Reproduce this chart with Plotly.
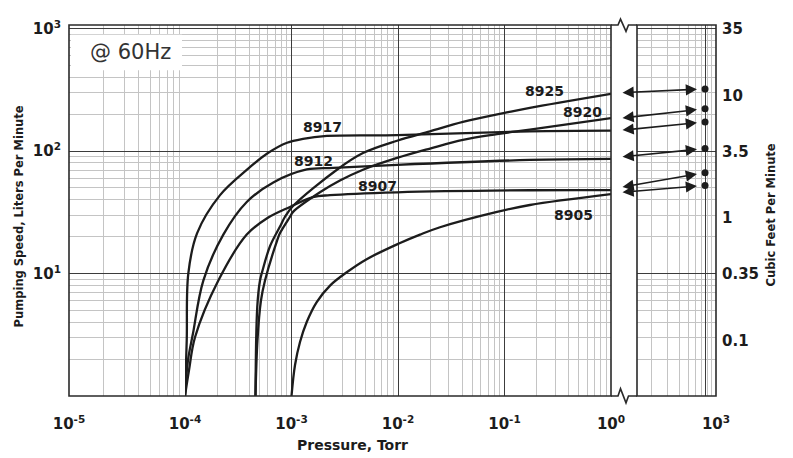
import plotly.graph_objects as go
import math

# ------------------------------------------------------------------ data
# pumping speed curves (pressure in Torr, speed in L/min)
p_8905 = [1.0e-3, 1.079e-3, 1.202e-3, 1.39e-3, 1.725e-3, 2.30e-3, 3.30e-3, 5.08e-3, 1.02e-2, 1.61e-2, 2.48e-2, 8.51e-2, 0.173, 1.0]
s_8905 = [1.0, 1.79, 2.76, 4.02, 5.85, 7.98, 10.24, 13.1, 17.6, 20.8, 23.9, 31.9, 36.3, 44.5]

p_8907 = [1.0e-4, 1.091e-4, 1.242e-4, 2.056e-4, 3.80e-4, 5.85e-4, 9.68e-4, 1.59e-3, 2.30e-3, 9.8e-3, 0.173, 1.0]
s_8907 = [1.0, 1.63, 3.02, 8.77, 20.8, 28.2, 35.0, 42.1, 43.7, 46.1, 47.9, 48.0]

p_8912 = [1.0e-4, 1.067e-4, 1.189e-4, 1.486e-4, 2.29e-4, 3.80e-4, 6.75e-4, 1.39e-3, 2.47e-3, 9.8e-3, 0.173, 1.0]
s_8912 = [1.0, 1.96, 3.25, 8.77, 20.8, 38.4, 55.5, 70.8, 73.1, 77.3, 84.7, 86.3]

p_8917 = [1.0e-4, 1.038e-4, 1.074e-4, 1.297e-4, 2.133e-4, 3.82e-4, 6.01e-4, 9.08e-4, 1.282e-3, 2.15e-3, 9.8e-3, 0.173, 1.0]
s_8917 = [1.0, 2.85, 10.0, 21.3, 43.7, 70.5, 96.4, 117, 126, 133, 135, 145, 147]

p_8920 = [4.59e-4, 4.79e-4, 5.17e-4, 5.64e-4, 7.30e-4, 7.80e-4, 9.68e-4, 1.035e-3, 1.85e-3, 2.85e-3, 4.69e-3, 9.8e-3, 0.020, 0.0407, 0.085, 0.173, 1.0]
s_8920 = [1.0, 2.85, 6.03, 8.77, 18.4, 21.4, 29.1, 31.9, 46.1, 57.5, 70.5, 87.9, 105, 123.7, 137.6, 150, 186]

p_8925 = [4.59e-4, 4.77e-4, 5.06e-4, 5.25e-4, 6.28e-4, 7.80e-4, 8.69e-4, 1.033e-3, 2.67e-3, 4.69e-3, 9.8e-3, 0.020, 0.0407, 0.105, 0.173, 1.0]
s_8925 = [1.0, 5.32, 8.77, 10.0, 16.7, 24.2, 29.1, 35.6, 70.5, 96.4, 121.5, 145, 173, 207, 226, 294]

# speed near 1 Torr and free-air speed at atmosphere (arrows / dots)
atm_models = ["8925", "8920", "8917", "8912", "8907", "8905"]
speed_at_1torr = [300, 186, 148, 89.5, 50.6, 46.1]
speed_at_atm = [322, 222, 173, 105, 66.7, 52.5]
atm_pressure = 760

# axis ticks
x_ticks_first = [1e-5]
x_ticks_main = [1e-4, 1e-3, 1e-2, 1e-1, 1]
x_ticks_atm = [760, 1000]
x_labels_first = ["10<sup>-5</sup>"]
x_labels_main = ["10<sup>-4</sup>", "10<sup>-3</sup>", "10<sup>-2</sup>", "10<sup>-1</sup>", "10<sup>0</sup>"]
x_labels_atm = [" ", "10<sup>3</sup>"]
y_ticks = [10, 100, 1000]
y_labels = ["10<sup>1</sup>", "10<sup>2</sup>", "10<sup>3</sup>"]
cfm_ticks = [35, 10, 3.5, 1, 0.35, 0.1]
cfm_labels = ["35", "10", "3.5", "1", "0.35", "0.1"]
LPM_PER_CFM = 28.3168

curves = [
    ("8905", p_8905, s_8905),
    ("8907", p_8907, s_8907),
    ("8912", p_8912, s_8912),
    ("8917", p_8917, s_8917),
    ("8920", p_8920, s_8920),
    ("8925", p_8925, s_8925),
]

# ------------------------------------------------------------------ layout helpers
# the page body adds an 8 px margin, so the figure is drawn 8 px smaller
OFF = 8
PAGE_W, PAGE_H = 793, 458
W, H = PAGE_W - OFF, PAGE_H - OFF
PL, PR, PT, PB = 69, 716, 18, 396          # plot area in page pixels
PW, PH = PR - PL, PB - PT


def fx(px):
    return (px - PL) / PW


def fy(py):
    return (PB - py) / PH


INK = "#1c1c1c"
MAJOR = "#3c3c3c"
MINOR = "#c4c4c4"
FONT = "DejaVu Sans"
TICKFONT = dict(family=FONT, size=15, color=INK, weight="bold")


def minor_vals(decades):
    return [m * 10 ** d for d in decades for m in range(2, 10)]


fig = go.Figure()

for name, p, s in curves:
    fig.add_trace(go.Scatter(x=p, y=s, mode="lines", xaxis="x", yaxis="y",
                             line=dict(color=INK, width=2.3, shape="spline", smoothing=1.0),
                             name=name, hoverinfo="skip"))

# helper traces so that all sub-panels exist
fig.add_trace(go.Scatter(x=[], y=[], xaxis="x3", yaxis="y", hoverinfo="skip"))
fig.add_trace(go.Scatter(x=[], y=[], xaxis="x2", yaxis="y2", hoverinfo="skip"))

# dots at atmospheric pressure
fig.add_trace(go.Scatter(x=[atm_pressure] * len(speed_at_atm), y=speed_at_atm, mode="markers",
                         xaxis="x2", yaxis="y", marker=dict(color=INK, size=7),
                         hoverinfo="skip"))

x2_range = [2.141, 3.0]
common_x = dict(type="log", showline=False, zeroline=False, ticks="", tickangle=0,
                tickfont=TICKFONT, ticklabelstandoff=17, anchor="y",
                gridcolor=MAJOR, gridwidth=1.2)

fig.update_layout(
    width=W, height=H,
    margin=dict(l=PL - OFF, r=PAGE_W - PR, t=PT - OFF, b=PAGE_H - PB),
    paper_bgcolor="white", plot_bgcolor="white",
    showlegend=False,
    xaxis3=dict(common_x, domain=[0, fx(185)], range=[-5, -4],
                tickvals=x_ticks_first, ticktext=x_labels_first, showgrid=False,
                minor=dict(tickvals=minor_vals([-5]), showgrid=True, gridcolor=MINOR, gridwidth=1)),
    xaxis=dict(common_x, domain=[fx(185), fx(611)], range=[-4, 0],
               tickvals=x_ticks_main, ticktext=x_labels_main, showgrid=True,
               minor=dict(tickvals=minor_vals([-4, -3, -2, -1]), showgrid=True, gridcolor=MINOR, gridwidth=1)),
    xaxis2=dict(common_x, domain=[fx(637), 1], range=x2_range,
                tickvals=x_ticks_atm, ticktext=x_labels_atm, showgrid=True,
                minor=dict(tickvals=minor_vals([2]), showgrid=True, gridcolor=MINOR, gridwidth=1)),
    yaxis=dict(type="log", range=[0, 3.03], domain=[0, 1], anchor="x3",
               showline=False, zeroline=False, ticks="",
               tickvals=y_ticks, ticktext=y_labels, tickfont=TICKFONT, ticklabelstandoff=7,
               gridcolor=MAJOR, gridwidth=1.2,
               minor=dict(tickvals=minor_vals([0, 1, 2]), showgrid=True, gridcolor=MINOR, gridwidth=1)),
    yaxis2=dict(type="log", range=[0, 3.03], overlaying="y", side="right", anchor="x2",
                showline=False, zeroline=False, ticks="", showgrid=False,
                tickvals=[c * LPM_PER_CFM for c in cfm_ticks], ticktext=cfm_labels,
                tickfont=TICKFONT, ticklabelstandoff=5),
)

shapes = []
frame = dict(color="#2a2a2a", width=1.6)
# main frame and atmosphere panel frame
shapes.append(dict(type="rect", xref="paper", yref="paper", x0=0, x1=fx(611), y0=0, y1=1,
                   line=frame, layer="above"))
shapes.append(dict(type="rect", xref="paper", yref="paper", x0=fx(637), x1=1, y0=0, y1=1,
                   line=frame, layer="above"))


def path(points):
    return "M " + " L ".join(f"{fx(a):.5f},{fy(b):.5f}" for a, b in points)


# axis-break zigzags
shapes.append(dict(type="path", xref="paper", yref="paper", layer="above", line=frame,
                   path=path([(611, 18), (618, 18), (620.5, 12), (626, 24.5), (628.5, 18), (637, 18)])))
shapes.append(dict(type="path", xref="paper", yref="paper", layer="above", line=frame,
                   path=path([(611, 396), (618, 396), (620.5, 388.5), (626, 403), (628.5, 396), (637, 396)])))
# white box behind "@ 60Hz"
shapes.append(dict(type="rect", xref="paper", yref="paper", x0=fx(71), x1=fx(182), y0=fy(64), y1=fy(28),
                   fillcolor="white", line=dict(width=0), layer="above"))
fig.update_layout(shapes=shapes)

ann = []
# double arrows from 1 Torr to atmospheric pressure
tail_logp = x2_range[0] - 16 / 92
head_logp = x2_range[0] + 60 / 92
atm_logp = math.log10(atm_pressure)
for s1, sa in zip(speed_at_1torr, speed_at_atm):
    lt, la = math.log10(s1), math.log10(sa)
    lh = lt + (head_logp - tail_logp) / (atm_logp - tail_logp) * (la - lt)
    ann.append(dict(xref="x2", yref="y", axref="x2", ayref="y", x=head_logp, y=lh,
                    ax=tail_logp, ay=lt, text="", showarrow=True, arrowhead=2, arrowside="end+start",
                    arrowsize=1.4, arrowwidth=1.6, arrowcolor=INK, standoff=0, startstandoff=0))

# curve labels
label_pos = {"8925": (544, 85), "8920": (582, 107), "8917": (322, 122),
             "8912": (313, 157), "8907": (377, 182), "8905": (573, 212)}
for name, (lx, ly) in label_pos.items():
    ann.append(dict(xref="paper", yref="paper", x=fx(lx), y=fy(ly), text=name, showarrow=False,
                    xanchor="center", yanchor="middle",
                    font=dict(family=FONT, size=14, color=INK, weight="bold")))

center = dict(xanchor="center", yanchor="middle", showarrow=False, xref="paper", yref="paper")
ann.append(dict(center, x=fx(130), y=fy(46), text="@ 60Hz",
                font=dict(family=FONT, size=21, color="#333333")))
ann.append(dict(center, x=fx(352), y=fy(446), text="Pressure, Torr",
                font=dict(family=FONT, size=14, color=INK, weight="bold")))
ann.append(dict(center, x=fx(19), y=fy(213), text="Pumping Speed, Liters Per Minute", textangle=-90,
                font=dict(family=FONT, size=11.5, color=INK, weight="bold")))
ann.append(dict(center, x=fx(771), y=fy(212), text="Cubic Feet Per Minute", textangle=-90,
                font=dict(family=FONT, size=11.5, color=INK, weight="bold")))
fig.update_layout(annotations=ann)

fig.write_html("out.html")
